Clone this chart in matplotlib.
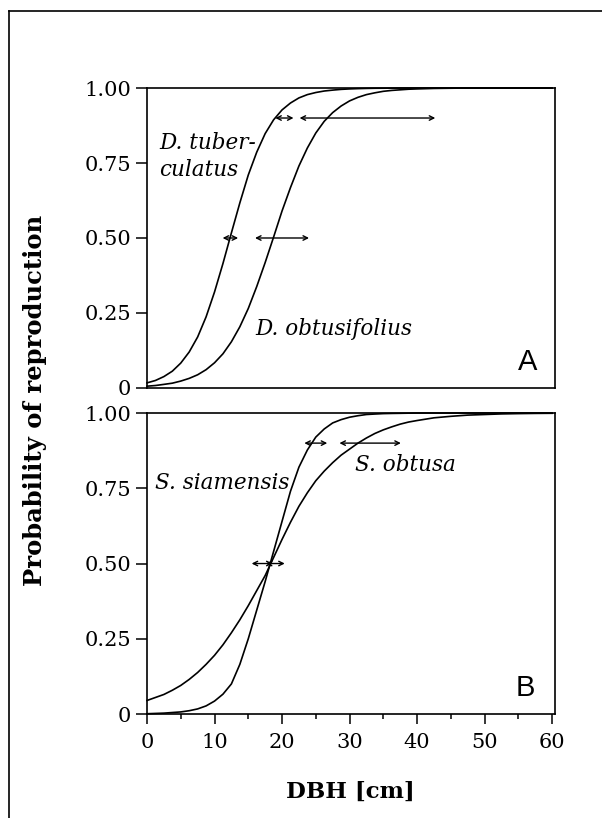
import matplotlib.pyplot as plt
from matplotlib.lines import Line2D
from matplotlib.ticker import MultipleLocator

# DBH grid (cm) and probability of reproduction
dbh = [0, 1.25, 2.5, 3.75, 5, 6.25, 7.5, 8.75, 10, 11.25, 12.5, 13.75, 15, 16.25,
       17.5, 18.75, 20, 21.25, 22.5, 23.75, 25, 26.25, 27.5, 28.75, 30, 31.25,
       32.5, 33.75, 35, 36.25, 37.5, 38.75,
       40, 42.5, 45, 47.5, 50, 52.5, 55, 57.5, 60]

d_tuberculatus = [0.017, 0.025, 0.038, 0.056, 0.083, 0.12, 0.17, 0.237, 0.32, 0.415,
                  0.517, 0.617, 0.71, 0.786, 0.848, 0.894, 0.927, 0.95, 0.967, 0.978,
                  0.985, 0.99, 0.993, 0.9955, 0.997, 0.998, 0.9987, 0.9992, 0.9994,
                  0.9996, 1, 1,
                  1, 1, 1, 1, 1, 1, 1, 1, 1]
d_obtusifolius = [0.006, 0.0082, 0.012, 0.016, 0.023, 0.032, 0.044, 0.061, 0.084, 0.114,
                  0.154, 0.204, 0.265, 0.338, 0.418, 0.503, 0.59, 0.668, 0.74, 0.80,
                  0.85, 0.889, 0.918, 0.94, 0.957, 0.969, 0.978, 0.984, 0.989, 0.992,
                  0.994, 0.996,
                  0.997, 0.9986, 0.9993, 1, 1, 1, 1, 1, 1]
s_siamensis = [0.001, 0.002, 0.003, 0.005, 0.007, 0.011, 0.017, 0.027, 0.043, 0.066,
               0.10, 0.165, 0.25, 0.345, 0.44, 0.54, 0.64, 0.74, 0.82, 0.877,
               0.92, 0.947, 0.967, 0.978, 0.986, 0.991, 0.995, 0.9966, 0.998, 0.9986,
               0.999, 0.9995,
               1, 1, 1, 1, 1, 1, 1, 1, 1]
s_obtusa = [0.045, 0.055, 0.065, 0.079, 0.095, 0.115, 0.138, 0.165, 0.195, 0.23,
            0.27, 0.313, 0.36, 0.41, 0.46, 0.52, 0.58, 0.637, 0.69, 0.735,
            0.775, 0.807, 0.835, 0.86, 0.88, 0.9, 0.917, 0.932, 0.944, 0.954,
            0.963, 0.97,
            0.975, 0.984, 0.989, 0.993, 0.995, 0.997, 0.998, 0.9987, 0.9991]

# confidence intervals drawn as double arrows: (y, dbh_from, dbh_to)
ci_a = [(0.5, 11.2, 13.5), (0.5, 16.0, 24.0), (0.9, 19.0, 21.7), (0.9, 22.6, 42.7)]
ci_b = [(0.5, 15.5, 18.6), (0.5, 17.6, 20.4), (0.9, 23.3, 26.7), (0.9, 28.5, 37.6)]

yticks = [0, 0.25, 0.5, 0.75, 1.0]
ytick_labels = ["0", "0.25", "0.50", "0.75", "1.00"]
xticks = [0, 10, 20, 30, 40, 50, 60]

serif = "DejaVu Serif"

fig = plt.figure(figsize=(6.02, 8.18), dpi=100)
ax_a = fig.add_axes([0.2442, 0.5257, 0.6778, 0.3667])
ax_b = fig.add_axes([0.2442, 0.1271, 0.6778, 0.3680])

# outer frame (left and top edges only, rest is cropped)
fig.add_artist(Line2D([9 / 602, 9 / 602], [0, 1 - 11 / 818], color="black", lw=1.2))
fig.add_artist(Line2D([9 / 602, 1], [1 - 11 / 818, 1 - 11 / 818], color="black", lw=1.2))


def style(ax, show_x):
    ax.set_xlim(0, 60.44)
    ax.set_ylim(0, 1)
    for s in ax.spines.values():
        s.set_linewidth(1.2)
    ax.set_yticks(yticks)
    ax.set_yticklabels(ytick_labels, fontfamily=serif, fontsize=15)
    ax.tick_params(axis="y", direction="out", length=8, width=1.1, pad=3.5)
    if show_x:
        ax.set_xticks(xticks)
        ax.set_xticklabels([str(t) for t in xticks], fontfamily=serif, fontsize=15)
        ax.xaxis.set_minor_locator(MultipleLocator(5))
        ax.tick_params(axis="x", which="major", direction="out", length=7, width=1.1, pad=7)
        ax.tick_params(axis="x", which="minor", direction="out", length=3.5, width=1.1)
    else:
        ax.set_xticks([])


def arrows(ax, cis):
    for y, x0, x1 in cis:
        ax.annotate("", xy=(x1, y), xytext=(x0, y),
                    arrowprops=dict(arrowstyle="<->", color="black", lw=1.0,
                                    shrinkA=0, shrinkB=0, mutation_scale=8))


# === Panel A ===
ax_a.plot(dbh, d_tuberculatus, color="black", lw=1.2, clip_on=False)
ax_a.plot(dbh, d_obtusifolius, color="black", lw=1.2, clip_on=False)
arrows(ax_a, ci_a)
style(ax_a, False)
ax_a.text(1.8, 0.773, "D. tuber-\nculatus", fontfamily=serif, style="italic",
          fontsize=15.5, linespacing=1.3, va="center", ha="left")
ax_a.text(16.0, 0.195, "D. obtusifolius", fontfamily=serif, style="italic",
          fontsize=15.5, va="center", ha="left")
ax_a.text(56.4, 0.085, "A", fontfamily="Liberation Sans", fontsize=21, ha="center", va="center")

# === Panel B ===
ax_b.plot(dbh, s_siamensis, color="black", lw=1.2, clip_on=False)
ax_b.plot(dbh, s_obtusa, color="black", lw=1.2, clip_on=False)
arrows(ax_b, ci_b)
style(ax_b, True)
ax_b.text(1.2, 0.767, "S. siamensis", fontfamily=serif, style="italic",
          fontsize=15.5, va="center", ha="left")
ax_b.text(30.8, 0.827, "S. obtusa", fontfamily=serif, style="italic",
          fontsize=15.5, va="center", ha="left")
ax_b.text(56.0, 0.085, "B", fontfamily="Liberation Sans", fontsize=21, ha="center", va="center")

fig.text(35 / 602, 1 - 400 / 818, "Probability of reproduction", rotation=90,
         fontfamily=serif, fontweight="bold", fontsize=17.5, ha="center", va="center")
fig.text(350 / 602, 1 - 792 / 818, "DBH [cm]", fontfamily=serif, fontweight="bold",
         fontsize=16.5, ha="center", va="center")

plt.savefig("out.png", dpi=100)
